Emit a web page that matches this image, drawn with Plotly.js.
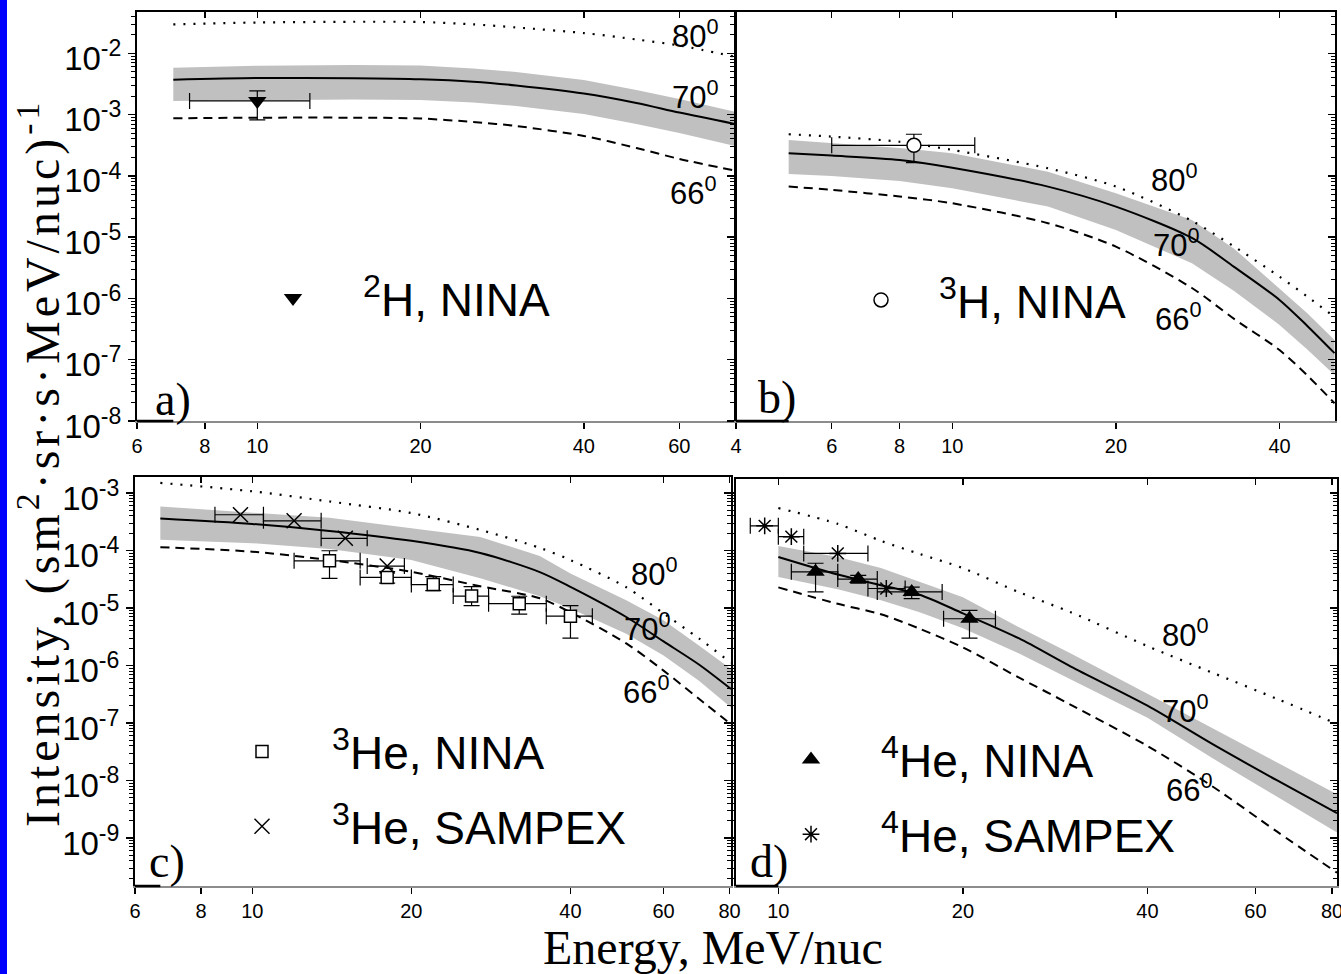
<!DOCTYPE html>
<html><head><meta charset="utf-8">
<script src="https://cdn.plot.ly/plotly-3.0.1.min.js"></script>
<style>
html,body{margin:0;padding:0;background:#fff;} #chart{width:1341px;height:974px;}
g.annotation[data-index="17"] text{letter-spacing:4px;}
</style>
</head><body><div id="chart"></div>
<script>
// ---------------- DATA ----------------
// Panel a) 2H
const energyA = [7, 10, 15, 20, 25, 30, 40, 50, 60, 76];
const a80   = [0.0297, 0.0318, 0.0327, 0.0324, 0.0297, 0.0264, 0.0214, 0.0168, 0.0134, 0.0088];
const a70   = [3.71e-3, 3.95e-3, 3.91e-3, 3.76e-3, 3.44e-3, 2.99e-3, 2.21e-3, 1.55e-3, 1.08e-3, 7.03e-4];
const a70hi = [5.82e-3, 6.28e-3, 6.44e-3, 6.32e-3, 5.65e-3, 4.95e-3, 3.67e-3, 2.52e-3, 1.80e-3, 1.11e-3];
const a70lo = [1.67e-3, 1.73e-3, 1.76e-3, 1.73e-3, 1.57e-3, 1.38e-3, 1.02e-3, 7.03e-4, 5.0e-4, 3.08e-4];
const a66   = [8.71e-4, 8.9e-4, 8.9e-4, 8.63e-4, 7.57e-4, 6.51e-4, 4.48e-4, 2.85e-4, 1.89e-4, 1.22e-4];
const h2E = [10], h2I = [1.67e-3], h2Elo = [7.5], h2Ehi = [12.5], h2Ilo = [8.2e-4], h2Ihi = [2.43e-3];

// Panel b) 3H
const energyB = [5, 6, 8, 10, 15, 20, 27.6, 33, 40, 45, 50.5];
const b80   = [4.78e-4, 4.37e-4, 3.6e-4, 2.65e-4, 1.33e-4, 6.7e-5, 1.84e-5, 7.03e-6, 2.27e-6, 1.07e-6, 5.0e-7];
const b70   = [2.34e-4, 2.14e-4, 1.82e-4, 1.36e-4, 6.67e-5, 3.15e-5, 9.7e-6, 3.27e-6, 9.46e-7, 3.56e-7, 1.28e-7];
const b70hi = [3.86e-4, 3.44e-4, 2.85e-4, 2.34e-4, 1.17e-4, 5.2e-5, 1.91e-5, 6.49e-6, 1.47e-6, 5.74e-7, 2.1e-7];
const b70lo = [1.07e-4, 9.95e-5, 8.25e-5, 6.28e-5, 3.15e-5, 1.31e-5, 3.75e-6, 1.32e-6, 3.7e-7, 1.47e-7, 5.65e-8];
const b66   = [6.7e-5, 5.9e-5, 4.6e-5, 3.57e-5, 1.69e-5, 7.0e-6, 1.48e-6, 4.63e-7, 1.44e-7, 5.55e-8, 1.95e-8];
const h3E = [8.5], h3I = [3.15e-4], h3Elo = [6.0], h3Ehi = [11.0], h3Ilo = [1.64e-4], h3Ihi = [4.78e-4];

// Panel c) 3He
const energyC = [6.7, 10, 14, 20, 27, 35, 40, 51, 60, 70, 80.5];
const c80   = [1.50e-3, 1.07e-3, 7.12e-4, 4.47e-4, 2.28e-4, 1.11e-4, 6.82e-5, 2.30e-5, 8.07e-6, 2.95e-6, 1.12e-6];
const c70   = [3.60e-4, 2.90e-4, 2.19e-4, 1.47e-4, 9.04e-5, 4.21e-5, 2.33e-5, 6.97e-6, 2.62e-6, 1.04e-6, 3.9e-7];
const c70hi = [5.83e-4, 4.58e-4, 3.70e-4, 2.44e-4, 1.72e-4, 8.0e-5, 3.99e-5, 1.36e-5, 6.1e-6, 2.23e-6, 8.73e-7];
const c70lo = [1.53e-4, 1.34e-4, 1.06e-4, 6.82e-5, 3.30e-5, 1.60e-5, 9.77e-6, 3.57e-6, 1.49e-6, 5.45e-7, 1.86e-7];
const c66   = [1.14e-4, 9.53e-5, 6.82e-5, 4.26e-5, 2.39e-5, 1.48e-5, 8.41e-6, 2.42e-6, 8.15e-7, 2.64e-7, 9.52e-8];
const he3NinaE   = [14.0, 18.0, 22.0, 26.0, 32.0, 40.0];
const he3NinaI   = [6.6e-5, 3.4e-5, 2.55e-5, 1.61e-5, 1.19e-5, 7.2e-6];
const he3NinaElo = [12.0, 16.0, 20.0, 24.0, 28.0, 36.0];
const he3NinaEhi = [16.0, 20.0, 24.0, 28.0, 36.0, 44.0];
const he3NinaIlo = [3.27e-5, 2.7e-5, 2.0e-5, 1.1e-5, 7.8e-6, 3.0e-6];
const he3NinaIhi = [9.9e-5, 4.3e-5, 3.5e-5, 2.35e-5, 1.6e-5, 1.1e-5];
const he3SamE   = [9.5, 12.0, 15.0, 18.0];
const he3SamI   = [4.18e-4, 3.28e-4, 1.63e-4, 5.36e-5];
const he3SamElo = [8.5, 10.5, 13.5, 16.5];
const he3SamEhi = [10.5, 13.5, 16.5, 19.4];

// Panel d) 4He
const energyD = [10, 12.5, 14.7, 17, 20, 24.7, 30, 40, 51, 65, 81.5];
const d80   = [5.47e-4, 2.90e-4, 1.47e-4, 8.69e-5, 4.94e-5, 1.88e-5, 8.41e-6, 2.17e-6, 7.52e-7, 2.64e-7, 9.64e-8];
const d70   = [7.69e-5, 3.81e-5, 2.49e-5, 1.70e-5, 8.07e-6, 2.95e-6, 9.57e-7, 2.0e-7, 4.32e-8, 1.01e-8, 2.70e-9];
const d70hi = [1.20e-4, 7.7e-5, 4.94e-5, 2.81e-5, 1.54e-5, 4.6e-6, 1.61e-6, 3.23e-7, 8.2e-8, 2.09e-8, 5.76e-9];
const d70lo = [3.44e-5, 2.12e-5, 1.36e-5, 8.41e-6, 4.42e-6, 1.61e-6, 5.68e-7, 1.23e-7, 2.45e-8, 5.31e-9, 1.25e-9];
const d66   = [2.28e-5, 1.18e-5, 7.76e-6, 4.36e-6, 2.06e-6, 6.14e-7, 2.07e-7, 3.98e-8, 7.95e-9, 1.30e-9, 2.49e-10];
const he4NinaE   = [11.5, 13.5, 16.5, 20.5];
const he4NinaI   = [4.26e-5, 3.18e-5, 1.9e-5, 6.5e-6];
const he4NinaElo = [10.5, 12.5, 14.5, 18.6];
const he4NinaEhi = [12.5, 14.5, 18.5, 22.6];
const he4NinaIlo = [1.9e-5, 2.7e-5, 1.45e-5, 3.0e-6];
const he4NinaIhi = [6.0e-5, 3.7e-5, 2.3e-5, 9.1e-6];
const he4SamE   = [9.5, 10.5, 12.5, 15.0];
const he4SamI   = [2.68e-4, 1.74e-4, 8.9e-5, 2.18e-5];
const he4SamElo = [9.0, 10.0, 11.0, 14.0];
const he4SamEhi = [10.0, 11.0, 14.0, 16.1];

// tick labels
const xTicksA = [6, 8, 10, 20, 40, 60];
const xTicksB = [4, 6, 8, 10, 20, 40];
const xTicksC = [6, 8, 10, 20, 40, 60, 80];
const xTicksD = [10, 20, 40, 60, 80];
const yTicksTop = [1e-8, 1e-7, 1e-6, 1e-5, 1e-4, 1e-3, 1e-2];
const yTicksBot = [1e-9, 1e-8, 1e-7, 1e-6, 1e-5, 1e-4, 1e-3];
const angleLabels = ['80', '70', '66'];
const legendNames = ['<sup>2</sup>H, NINA', '<sup>3</sup>H, NINA', '<sup>3</sup>He, NINA', '<sup>3</sup>He, SAMPEX', '<sup>4</sup>He, NINA', '<sup>4</sup>He, SAMPEX'];

// ---------------- STYLE / LAYOUT ----------------
const W = 1341, H = 974;
const PX = v => v / W, PY = v => 1 - v / H;
const L10 = Math.log10;
const SANS = 'Liberation Sans, Arial, sans-serif';
const SERIF = 'Liberation Serif, Times New Roman, serif';

const panels = [
  {key:'', ov:5, E:energyA, v80:a80, v70:a70, hi:a70hi, lo:a70lo, v66:a66, xd:[137,735], yd:[12,421], xr:[L10(6),L10(76)], yr:[-8,-1.326], xt:xTicksA, yt:yTicksTop},
  {key:'2', ov:6, E:energyB, v80:b80, v70:b70, hi:b70hi, lo:b70lo, v66:b66, xd:[736,1335], yd:[12,421], xr:[L10(4),L10(50.6)], yr:[-8,-1.326], xt:xTicksB, yt:yTicksTop},
  {key:'3', ov:7, E:energyC, v80:c80, v70:c70, hi:c70hi, lo:c70lo, v66:c66, xd:[135,731], yd:[477,886], xr:[L10(6),L10(80.5)], yr:[-9.835,-2.722], xt:xTicksC, yt:yTicksBot},
  {key:'4', ov:8, E:energyD, v80:d80, v70:d70, hi:d70hi, lo:d70lo, v66:d66, xd:[736,1337], yd:[479,886], xr:[L10(8.53),L10(81.5)], yr:[-9.835,-2.757], xt:xTicksD, yt:yTicksBot}
];

const traces = [];
const layout = {
  width: W, height: H, margin: {l:0, r:0, t:0, b:0, pad:0},
  paper_bgcolor: '#ffffff', plot_bgcolor: 'rgba(0,0,0,0)',
  showlegend: true, annotations: [], shapes: []
};
const supLabel = v => '10<sup>' + Math.round(L10(v)) + '</sup>';

panels.forEach(p => {
  const xa = 'x' + p.key, ya = 'y' + p.key;
  const xo = 'x' + p.ov, yo = 'y' + p.ov;
  const xdom = [PX(p.xd[0]), PX(p.xd[1])], ydom = [PY(p.yd[1]), PY(p.yd[0])];
  traces.push({x:p.E, y:p.lo, xaxis:xa, yaxis:ya, mode:'lines', line:{width:0, color:'#c0c0c0'}, showlegend:false, hoverinfo:'skip'});
  traces.push({x:p.E, y:p.hi, xaxis:xa, yaxis:ya, mode:'lines', line:{width:0, color:'#c0c0c0'}, fill:'tonexty', fillcolor:'#c0c0c0', showlegend:false, hoverinfo:'skip'});
  traces.push({x:p.E, y:p.v66, xaxis:xa, yaxis:ya, mode:'lines', line:{color:'#000', width:2, dash:'9px,6px', shape:'spline', smoothing:0.8}, showlegend:false});
  traces.push({x:p.E, y:p.v70, xaxis:xa, yaxis:ya, mode:'lines', line:{color:'#000', width:2, shape:'spline', smoothing:0.8}, showlegend:false});
  traces.push({x:p.E, y:p.v80, xaxis:xa, yaxis:ya, mode:'lines', line:{color:'#000', width:2.2, dash:'2px,8px', shape:'spline', smoothing:0.8}, showlegend:false});
  traces.push({x:[], y:[], xaxis:xo, yaxis:yo, mode:'markers', showlegend:false, hoverinfo:'skip'});

  layout['xaxis' + p.key] = {type:'log', domain:xdom, range:p.xr, anchor:ya, autorange:false,
    tickmode:'array', tickvals:p.xt, ticktext:p.xt.map(String), ticks:'outside', ticklen:6, tickwidth:1.5, tickcolor:'#000',
    showline:true, linecolor:'#8c8c8c', linewidth:1.5, showgrid:false, zeroline:false, ticklabeloverflow:'allow',
    tickfont:{family:SANS, size:20, color:'#000'}};
  layout['yaxis' + p.key] = {type:'log', domain:ydom, range:p.yr, anchor:xa, autorange:false,
    tickmode:'array', tickvals:p.yt, ticktext:p.yt.map(supLabel), ticks:'outside', ticklen:7, tickwidth:1.5, tickcolor:'#000',
    minor:{ticks:'outside', ticklen:4, tickwidth:1, tickcolor:'#000', dtick:'D1', showgrid:false},
    showline:true, linecolor:'#000', linewidth:2, showgrid:false, zeroline:false, ticklabelshift:5, ticklabeloverflow:'allow',
    showticklabels: (p.key === '' || p.key === '3'),
    tickfont:{family:SANS, size:33, color:'#000'}};
  layout['xaxis' + p.ov] = {type:'log', overlaying:xa, side:'top', anchor:ya, range:p.xr, autorange:false,
    tickmode:'array', tickvals:p.xt, ticks:'inside', ticklen:6, tickwidth:1.5, tickcolor:'#000',
    showticklabels:false, showline:true, linecolor:'#000', linewidth:2, showgrid:false, zeroline:false};
  layout['yaxis' + p.ov] = {type:'log', overlaying:ya, side:'right', anchor:xa, range:p.yr, autorange:false,
    tickmode:'array', tickvals:p.yt, ticks:'inside', ticklen:7, tickwidth:1.5, tickcolor:'#000',
    minor:{ticks:'inside', ticklen:4, tickwidth:1, tickcolor:'#000', dtick:'D1', showgrid:false},
    showticklabels:false, showline:true, linecolor:'#000', linewidth:2, showgrid:false, zeroline:false};
  const frac = (L10(p.E[0]) - p.xr[0]) / (p.xr[1] - p.xr[0]);
  layout.shapes.push({type:'line', xref:xa + ' domain', yref:ya + ' domain', x0:0, x1:frac, y0:0, y1:0, line:{color:'#000', width:2.5}, layer:'above'});
});

function errPts(E, I, Elo, Ehi, Ilo, Ihi, marker, name, xa, ya, leg) {
  const t = {x:E, y:I, xaxis:xa, yaxis:ya, mode:'markers', name:name, legend:leg, marker:marker, cliponaxis:false,
    error_x:{type:'data', symmetric:false, array:E.map((e,i)=>Ehi[i]-e), arrayminus:E.map((e,i)=>e-Elo[i]), color:'#000', thickness:1.2, width:8}};
  if (Ilo) t.error_y = {type:'data', symmetric:false, array:I.map((v,i)=>Ihi[i]-v), arrayminus:I.map((v,i)=>v-Ilo[i]), color:'#000', thickness:1.2, width:8};
  return t;
}
traces.push(errPts(h2E, h2I, h2Elo, h2Ehi, h2Ilo, h2Ihi, {symbol:'triangle-down', size:16, color:'#000'}, legendNames[0], 'x', 'y', 'legend'));
traces.push(errPts(h3E, h3I, h3Elo, h3Ehi, h3Ilo, h3Ihi, {symbol:'circle', size:14, color:'#fff', line:{color:'#000', width:1.5}}, legendNames[1], 'x2', 'y2', 'legend2'));
traces.push(errPts(he3NinaE, he3NinaI, he3NinaElo, he3NinaEhi, he3NinaIlo, he3NinaIhi, {symbol:'square', size:12, color:'#fff', line:{color:'#000', width:1.5}}, legendNames[2], 'x3', 'y3', 'legend3'));
traces.push(errPts(he3SamE, he3SamI, he3SamElo, he3SamEhi, null, null, {symbol:'x-thin', size:15, color:'#000', line:{color:'#000', width:1.5}}, legendNames[3], 'x3', 'y3', 'legend3'));
traces.push(errPts(he4NinaE, he4NinaI, he4NinaElo, he4NinaEhi, he4NinaIlo, he4NinaIhi, {symbol:'triangle-up', size:16, color:'#000'}, legendNames[4], 'x4', 'y4', 'legend4'));
traces.push(errPts(he4SamE, he4SamI, he4SamElo, he4SamEhi, null, null, {symbol:'asterisk', size:14, color:'#000', line:{color:'#000', width:1.5}}, legendNames[5], 'x4', 'y4', 'legend4'));
traces.forEach((t,i)=>{ if (t.legend) t.legendgroup = 'g' + i; });

const legBase = {xref:'paper', yref:'paper', xanchor:'left', yanchor:'middle', bgcolor:'rgba(0,0,0,0)', borderwidth:0,
  font:{family:SANS, size:46, color:'#000'}, itemwidth:130, tracegroupgap:12, traceorder:'grouped', itemclick:false};
layout.legend  = Object.assign({}, legBase, {x:PX(223), y:PY(298)});
layout.legend2 = Object.assign({}, legBase, {x:PX(823), y:PY(300), itemwidth:106});
layout.legend3 = Object.assign({}, legBase, {x:PX(192), y:PY(789)});
layout.legend4 = Object.assign({}, legBase, {x:PX(741), y:PY(797)});

const ann = (text, x, y, size, family, opts) => Object.assign({text, x:PX(x), y:PY(y), xref:'paper', yref:'paper', showarrow:false,
  font:{family, size, color:'#000'}, xanchor:'center', yanchor:'middle'}, opts || {});
const angPos = [
  [[670,38],[670,99],[668,195]],
  [[1149,182],[1151,247],[1153,321]],
  [[629,576],[622,631],[621,694]],
  [[1160,637],[1160,713],[1164,792]]
];
angPos.forEach(set => set.forEach((pos,i) => layout.annotations.push(ann(angleLabels[i] + '<sup>0</sup>', pos[0], pos[1] - 4, 31, SANS, {xanchor:'left'}))));
[['a)',173,399],['b)',777,397],['c)',167,861],['d)',769,861]].forEach(l => layout.annotations.push(ann(l[0], l[1], l[2], 46, SERIF)));
layout.annotations.push(ann('Energy, MeV/nuc', 713, 947, 48, SERIF));
layout.annotations.push(ann('Intensity, (sm<sup>2</sup>·sr·s·MeV/nuc)<sup>-1</sup>', 39, 463, 48, SERIF, {textangle:-90}));

layout.shapes.push({type:'rect', xref:'paper', yref:'paper', x0:0, x1:PX(7), y0:0, y1:1, fillcolor:'#0000ff', line:{width:0}, layer:'above'});

Plotly.newPlot('chart', traces, layout, {staticPlot:true, displayModeBar:false});
</script></body></html>
